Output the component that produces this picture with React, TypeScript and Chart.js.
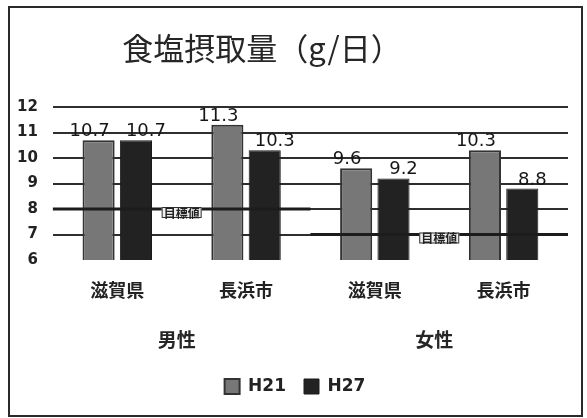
import React, { useEffect, useRef } from "react";
import { Chart, registerables } from "chart.js";

Chart.register(...registerables);

const titleText = "食塩摂取量（g/日）";
const categories = ["滋賀県", "長浜市", "滋賀県", "長浜市"];
const groups = ["男性", "女性"];
const seriesNames = ["H21", "H27"];
const h21Values = [10.7, 11.3, 9.6, 10.3];
const h27Values = [10.7, 10.3, 9.2, 8.8];
const targetValues = [8, 7];
const targetLabel = "目標値";
const yMin = 6;
const yMax = 12;

const CJK = "'Noto Sans CJK JP', sans-serif";
const LATIN = "'DejaVu Sans', sans-serif";

const overlayPlugin = {
  id: "overlay",
  afterLayout(chart: any) {
    const lg = chart.legend;
    if (lg) {
      lg.left += 10;
      lg.right += 10;
    }
  },
  beforeDraw(chart: any) {
    const { ctx, width, height } = chart;
    ctx.save();
    ctx.fillStyle = "#ffffff";
    ctx.fillRect(0, 0, width, height);
    ctx.strokeStyle = "#2a2a2a";
    ctx.lineWidth = 2;
    ctx.strokeRect(9, 7, 573, 409);
    ctx.restore();
  },
  afterDatasetsDraw(chart: any) {
    const { ctx, chartArea } = chart;
    const x = chart.scales.x;
    const y = chart.scales.y;
    ctx.save();
    // value labels (nudged outward like the original)
    ctx.font = `18px ${LATIN}`;
    ctx.fillStyle = "#161616";
    ctx.textAlign = "center";
    ctx.textBaseline = "alphabetic";
    chart.data.datasets.forEach((ds: any, di: number) => {
      const meta = chart.getDatasetMeta(di);
      const dx = di === 0 ? -9 : 10;
      meta.data.forEach((bar: any, i: number) => {
        ctx.fillText(ds.data[i].toFixed(1), bar.x + dx, bar.y - 4);
      });
    });
    // target lines
    const mid = (x.getPixelForValue(1) + x.getPixelForValue(2)) / 2;
    const segs = [
      [chartArea.left, mid],
      [mid, chartArea.right],
    ];
    targetValues.forEach((t, i) => {
      const py = y.getPixelForValue(t);
      ctx.strokeStyle = "#1c1c1c";
      ctx.lineWidth = 3;
      ctx.beginPath();
      ctx.moveTo(segs[i][0], py);
      ctx.lineTo(segs[i][1], py);
      ctx.stroke();
      const cx = (x.getPixelForValue(i * 2) + x.getPixelForValue(i * 2 + 1)) / 2;
      ctx.font = `bold 12px ${CJK}`;
      const w = ctx.measureText(targetLabel).width + 4;
      const bh = 11;
      const top = py - 2;
      ctx.fillStyle = "#eeeeee";
      ctx.fillRect(cx - w / 2, top, w, bh);
      ctx.strokeStyle = "#333";
      ctx.lineWidth = 1;
      ctx.strokeRect(cx - w / 2 + 0.5, top + 0.5, w - 1, bh - 1);
      ctx.fillStyle = "#222";
      ctx.textBaseline = "middle";
      ctx.fillText(targetLabel, cx, top + bh / 2 + 0.5);
    });
    ctx.restore();
  },
  afterDraw(chart: any) {
    const { ctx } = chart;
    const x = chart.scales.x;
    ctx.save();
    ctx.fillStyle = "#262626";
    ctx.textAlign = "center";
    ctx.textBaseline = "middle";
    ctx.font = `31px ${CJK}`;
    ctx.fillText(titleText, 262, 48);
    ctx.font = `bold 19px ${CJK}`;
    groups.forEach((g, i) => {
      const cx = (x.getPixelForValue(i * 2) + x.getPixelForValue(i * 2 + 1)) / 2 - 5;
      ctx.fillText(g, cx, 340);
    });
    ctx.restore();
  },
};

export default function App() {
  const canvasRef = useRef<HTMLCanvasElement | null>(null);

  useEffect(() => {
    if (!canvasRef.current) return;
    const chart = new Chart(canvasRef.current, {
      type: "bar",
      data: {
        labels: categories,
        datasets: [
          {
            label: seriesNames[0],
            data: h21Values,
            backgroundColor: "#777777",
            borderColor: "#333333",
            borderWidth: 2,
            categoryPercentage: 0.58,
            barPercentage: 0.86,
          },
          {
            label: seriesNames[1],
            data: h27Values,
            backgroundColor: "#222222",
            borderColor: "#1a1a1a",
            borderWidth: 1,
            categoryPercentage: 0.58,
            barPercentage: 0.86,
          },
        ],
      },
      options: {
        animation: false,
        responsive: false,
        maintainAspectRatio: false,
        layout: { padding: { left: 2, right: 19, top: 107, bottom: 13 } },
        scales: {
          x: {
            grid: { display: false },
            border: { display: false },
            afterFit: (s: any) => {
              s.height = 100;
            },
            ticks: {
              color: "#222",
              font: { family: CJK, size: 18, weight: "bold" },
              padding: 11,
            },
          },
          y: {
            min: yMin,
            max: yMax,
            border: { display: false },
            grid: {
              drawTicks: false,
              lineWidth: 2,
              color: (c: any) => (c.tick && c.tick.value === yMin ? "rgba(0,0,0,0)" : "#2e2e2e"),
            },
            ticks: {
              stepSize: 1,
              color: "#222",
              padding: 15,
              font: { family: LATIN, size: 15, weight: "bold" },
            },
          },
        },
        plugins: {
          title: { display: false },
          tooltip: { enabled: false },
          legend: {
            display: true,
            position: "bottom",
            labels: {
              color: "#222",
              boxWidth: 15,
              boxHeight: 15,
              padding: 18,
              font: { family: LATIN, size: 17, weight: "bold" },
            },
          },
        },
      },
      plugins: [overlayPlugin],
    });
    return () => chart.destroy();
  }, []);

  return (
    <div style={{ position: "fixed", left: 0, top: 0, width: 587, height: 418 }}>
      <canvas ref={canvasRef} width={587} height={418} style={{ width: 587, height: 418 }} />
    </div>
  );
}
